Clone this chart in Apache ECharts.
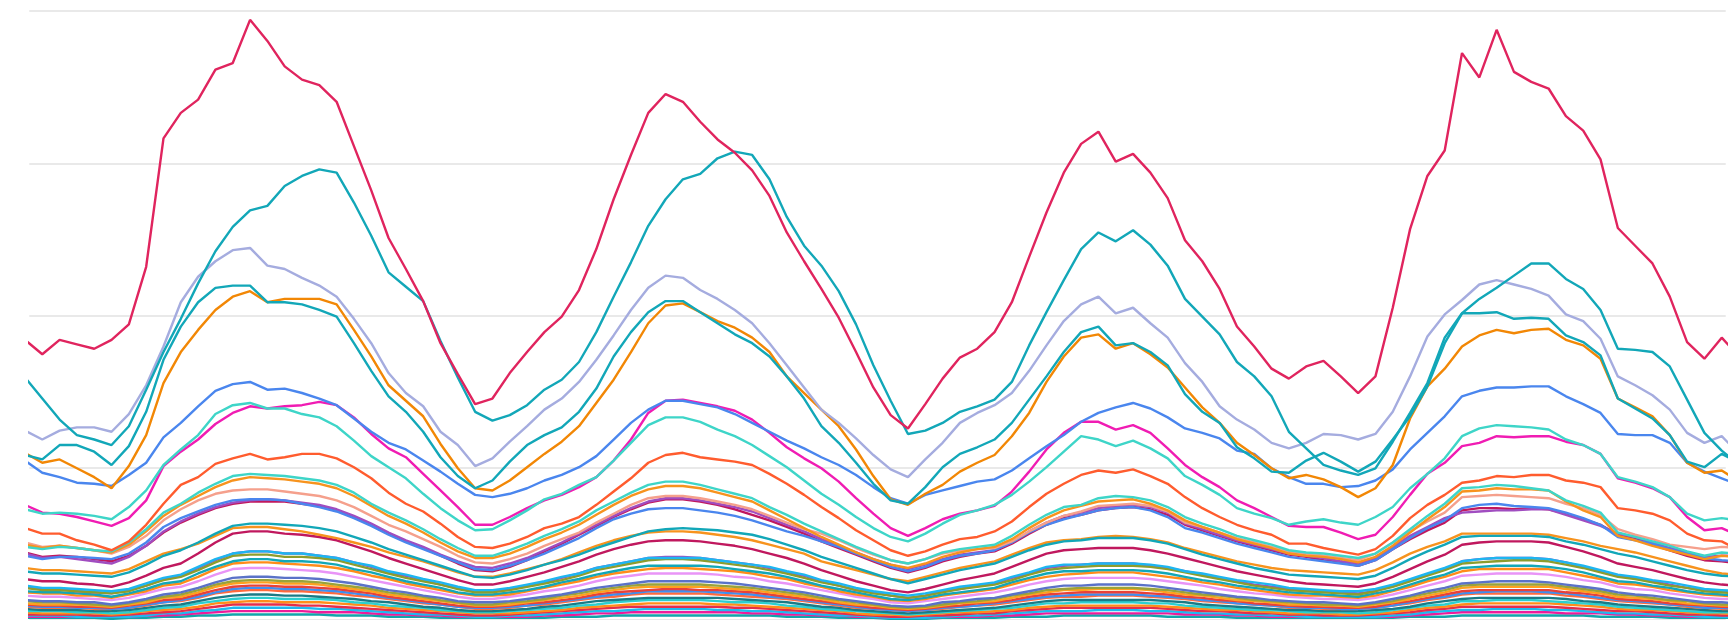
<!DOCTYPE html>
<html>
<head>
<meta charset="utf-8">
<script src="https://cdn.jsdelivr.net/npm/echarts@6/dist/echarts.min.js"></script>
<style>
html,body{margin:0;padding:0;background:#ffffff;}
#chart{width:1735px;height:620px;}
</style>
</head>
<body>
<div id="chart"></div>
<script>
// x positions: one reading per time step (100 steps, the first and last fall just outside the view)
const steps = Array.from({length: 100}, (_, i) => i);

// ---- values (arbitrary units, axis 0..550) ----
const crimsonA = [
253,240,253,249,245,253,267,319,435,458,470,497,503,542,523,500,488,483,468,428,388,345,317,288,250,
222,195,200,223,242,260,274,298,335,380,420,458,475,468,450,434,422,406,383,350,324,299,273,242,210,
185,173,195,218,237,245,260,287,328,368,404,430,441,414,421,404,381,343,324,299,265,247,227,218,229,
234,220,205,220,282,353,401,424,512,490,533,495,486,480,455,442,416,354,338,322,292,251,236,255,238];

const tealA = [
219,200,181,167,163,158,175,208,242,272,304,333,355,370,374,392,401,407,404,377,347,314,301,288,252,
219,188,180,185,194,208,217,233,260,292,323,356,380,398,403,417,423,420,398,364,338,320,297,267,230,
198,168,171,178,188,193,199,215,248,278,307,335,350,342,352,339,320,290,274,258,233,220,202,170,155,
140,135,131,137,161,187,214,255,277,290,300,311,322,322,308,299,280,245,244,242,229,199,169,153,140];

const tealB = [
149,145,158,158,152,140,157,188,235,265,287,300,302,302,287,287,285,280,274,250,225,202,188,170,147,
130,119,126,143,158,167,174,188,209,238,260,278,288,288,278,268,258,250,238,220,200,175,160,142,123,
108,105,120,138,150,156,163,178,199,220,242,260,265,248,250,242,230,204,188,178,156,146,134,133,144,
151,143,134,143,163,184,211,250,277,277,278,272,273,272,257,251,239,200,191,182,167,143,138,150,142];

const lavender = [
171,163,171,174,174,170,186,212,247,287,310,324,334,336,320,317,309,302,292,272,250,223,205,193,170,
158,139,146,161,175,190,200,215,235,257,280,300,311,309,298,290,280,268,250,230,210,190,178,164,149,
136,129,145,160,178,187,194,205,225,248,270,285,292,277,282,268,255,232,215,193,181,172,160,155,160,
168,167,163,168,188,220,256,276,289,303,307,303,299,293,276,270,254,220,212,203,190,169,160,166,150];

const orangeA = [
151,142,145,137,129,119,139,167,214,242,262,280,292,297,287,290,290,290,285,262,238,212,198,184,159,
137,119,117,126,138,150,161,175,196,217,242,268,284,286,278,270,264,255,242,220,205,190,175,154,130,
109,104,114,122,134,142,149,166,187,215,238,255,258,245,250,240,228,210,192,178,160,149,137,128,131,
127,120,111,119,140,182,211,227,247,257,262,259,262,263,253,248,236,200,192,184,167,142,133,135,125];

const blueA = [
144,133,129,124,123,121,131,142,165,178,193,207,213,215,208,209,205,200,194,182,170,160,154,144,134,
123,113,111,114,119,126,131,138,148,163,178,190,198,198,195,192,186,178,170,162,155,147,140,131,120,
110,105,113,117,121,125,127,135,146,157,167,179,187,192,196,191,183,173,169,164,153,150,137,129,123,
123,120,121,126,136,154,169,184,202,207,210,210,211,211,202,195,187,168,167,167,160,142,134,128,122];

const turquoiseA = [
100,96,97,96,94,91,102,117,140,154,167,186,194,196,191,191,186,183,175,162,148,138,128,114,101,
90,81,82,90,99,109,114,122,129,144,160,176,183,183,179,172,166,158,148,138,126,114,104,93,83,
75,71,78,87,95,99,104,113,125,138,152,166,163,157,162,155,146,130,122,113,101,96,92,86,89,
91,88,86,93,102,119,132,146,166,173,176,175,174,172,163,158,150,129,125,120,111,96,90,92,90];

const magenta = [
104,97,96,93,89,85,92,108,139,152,163,177,187,193,191,193,194,197,194,183,168,155,147,132,117,
102,86,86,93,101,108,113,120,129,144,163,187,198,199,196,193,189,181,169,156,146,137,125,110,96,
83,76,83,91,96,99,103,116,134,154,169,179,179,172,176,169,155,140,129,120,108,101,93,85,84,
84,79,73,77,93,113,132,142,157,160,166,165,166,166,161,158,150,128,124,119,111,93,81,83,76];

const vermilion = [
83,78,78,72,68,63,71,86,105,122,129,141,146,150,145,147,150,150,146,138,128,115,105,98,87,
75,66,65,69,75,83,87,93,104,116,128,142,149,151,147,145,143,140,132,123,113,102,92,81,72,
63,58,62,68,73,75,80,89,102,114,123,131,135,133,136,130,123,111,101,93,86,81,77,69,69,
65,62,59,64,76,92,104,113,124,126,130,129,131,131,126,124,120,101,99,96,90,78,72,71,63];

const turquoiseB = [
66,64,66,65,63,62,70,82,97,105,115,123,130,132,131,130,128,126,122,115,105,97,90,82,73,
65,58,58,63,69,76,82,89,99,107,115,122,125,125,122,118,114,110,102,95,87,80,73,66,60,
54,51,55,61,64,66,68,76,86,95,102,104,110,112,111,108,102,93,87,82,76,72,68,63,61,
60,58,56,60,70,82,94,105,119,120,122,121,119,117,108,103,97,79,75,71,67,62,58,61,60];

const orangeB = [
68,65,67,65,63,61,68,80,94,104,112,120,126,129,128,127,125,123,119,112,103,94,87,79,70,
62,56,56,60,66,73,79,86,95,104,112,118,121,121,119,115,111,107,99,91,83,75,68,61,55,
50,47,51,57,61,64,66,73,83,92,99,103,107,108,109,105,99,90,84,79,73,69,65,60,58,
57,55,52,57,67,79,91,102,116,117,119,118,118,117,107,99,93,76,72,67,63,59,55,58,57];

const salmon = [
70,66,67,65,63,60,66,76,90,100,108,114,117,118,118,116,114,112,108,102,94,86,80,73,66,
58,52,51,55,60,67,73,79,88,96,104,110,112,112,110,107,104,100,94,88,82,78,72,65,59,
54,51,55,60,63,64,65,71,80,88,94,98,103,104,105,103,98,88,84,79,74,70,66,62,60,
58,56,54,60,70,80,89,97,111,112,113,112,111,110,105,101,95,82,77,73,68,66,64,66,65];

const blueB = [
58,55,57,57,56,55,60,70,84,92,98,104,108,109,109,108,105,102,98,92,85,77,70,64,58,
52,46,45,49,54,60,67,74,83,91,96,100,101,101,99,97,94,90,85,80,76,71,66,60,54,
48,44,48,54,58,60,63,70,79,86,91,95,99,101,102,99,93,83,79,74,69,65,61,57,55,
53,51,49,54,64,74,83,90,101,104,105,103,102,101,97,92,86,75,72,69,64,60,56,54,53];

const purpleA = [
60,56,57,55,53,51,57,67,80,89,96,102,106,108,109,108,106,104,100,94,87,79,72,66,59,
53,48,47,51,56,63,70,78,86,94,101,107,110,110,108,105,102,98,92,86,80,73,67,61,55,
50,46,50,55,59,61,63,70,80,88,94,97,101,103,104,102,97,87,82,77,72,68,64,60,58,
56,53,51,56,66,76,84,92,97,98,99,99,100,100,95,90,85,78,75,70,65,61,57,58,58];

const raspberryA = [
61,57,58,57,55,53,58,67,79,88,95,101,105,107,107,107,105,103,99,93,86,78,71,65,58,
51,45,44,48,54,62,69,77,85,93,100,106,109,109,107,104,100,95,90,84,78,71,65,59,53,
47,43,47,53,57,60,62,69,78,86,92,95,99,101,102,100,95,86,81,76,71,67,63,59,57,
54,52,49,54,64,73,81,88,99,101,101,100,101,100,96,91,86,77,74,68,63,58,54,53,51];

const tealC = [
44,42,42,41,40,39,43,50,58,63,70,78,85,87,87,86,85,83,80,75,70,64,59,54,49,
44,39,38,41,45,50,54,59,65,70,75,80,82,83,82,81,79,77,73,68,63,57,52,47,42,
37,33,37,41,45,48,51,57,63,68,71,72,74,74,74,72,69,64,59,55,51,47,44,41,40,
39,38,37,40,47,55,62,68,75,76,76,76,76,75,71,68,64,60,57,53,49,45,42,40,39];

const orangeC = [
47,45,45,44,43,42,46,53,60,64,69,76,83,84,84,82,80,77,74,70,66,61,57,53,48,
43,39,39,42,46,50,55,61,67,72,76,79,80,80,79,77,75,72,68,64,60,53,49,45,41,
37,35,39,43,47,50,53,59,65,70,72,73,75,76,75,73,70,65,61,57,53,50,47,45,44,
43,42,41,45,52,60,66,71,78,78,78,78,78,77,74,71,67,64,61,57,53,49,45,42,41];

const raspberryB = [
37,35,35,33,32,30,34,40,47,51,60,70,78,80,80,78,77,75,72,67,62,56,51,46,41,
36,32,32,35,39,43,48,53,59,64,68,71,72,72,71,69,67,64,60,56,51,45,40,35,31,
27,25,28,32,36,39,42,48,54,60,63,64,65,65,65,63,60,56,52,48,44,41,38,35,33,
32,31,30,33,39,46,53,59,68,70,71,71,71,70,66,62,57,51,48,45,41,37,34,32,31];

const skyA = [
31,29,29,28,27,26,28,33,38,41,48,55,60,62,62,60,60,58,56,52,49,44,41,37,34,
30,27,27,29,32,35,39,42,47,50,53,56,56,56,56,54,52,50,48,44,41,36,33,29,26,
24,22,24,27,30,32,34,39,43,48,50,50,51,51,51,50,48,44,42,39,36,34,32,29,28,
27,26,26,28,32,37,42,47,53,55,56,56,56,55,52,49,45,41,39,36,34,31,28,27,26];

const oliveA = [
29,27,27,26,25,24,26,31,36,39,45,52,58,59,59,57,57,56,54,50,46,42,38,35,32,
28,25,25,27,30,33,36,40,45,48,51,54,55,55,54,52,50,48,45,42,38,34,31,27,24,
22,20,22,25,28,30,32,36,41,45,47,48,49,49,49,48,46,43,40,37,34,31,29,27,26,
25,24,23,26,30,35,40,45,51,52,53,54,54,53,50,47,43,39,37,34,31,29,26,25,24];

const purpleB = [
30,28,28,26,25,24,27,31,37,40,47,54,60,62,62,60,60,58,56,52,48,43,40,36,32,
29,26,26,28,31,34,38,42,47,50,53,56,57,57,56,54,52,50,47,43,40,35,31,27,25,
22,20,22,26,28,31,33,38,42,47,49,50,51,51,51,49,47,44,41,38,35,32,30,28,27,
26,25,24,26,31,36,41,46,53,55,56,56,56,55,52,48,44,40,38,35,32,29,27,26,25];

const tealD = [
26,25,25,24,23,21,24,28,33,35,42,48,53,55,55,53,53,52,50,46,43,39,35,32,29,
25,23,23,25,27,30,34,37,41,44,47,49,49,49,49,48,46,44,42,39,35,31,28,25,22,
19,18,20,23,25,27,29,34,38,42,44,44,45,45,45,44,42,39,36,34,31,29,27,25,24,
23,22,21,24,27,32,37,41,47,48,49,49,49,48,46,43,39,35,34,31,29,26,24,23,22];

const orangeD = [
25,24,24,22,22,20,23,26,31,33,39,46,51,52,52,51,50,49,47,44,40,37,33,30,27,
24,22,22,23,26,29,32,35,39,42,44,46,47,47,46,45,44,42,39,37,33,30,26,23,21,
18,17,19,22,24,26,28,32,36,39,41,42,43,43,43,41,39,37,34,32,29,27,25,23,22,
22,21,20,22,26,30,35,39,44,46,46,46,46,46,43,40,37,33,32,30,27,25,23,22,21];

const violet = [
22,21,21,20,19,18,20,24,28,30,35,41,46,47,47,46,45,44,42,39,36,33,30,27,24,
21,19,19,21,23,26,28,31,35,38,40,42,42,42,42,41,39,38,35,33,30,27,24,21,19,
16,15,17,19,21,23,25,28,32,35,37,38,38,38,38,37,35,33,31,28,26,24,23,21,20,
19,19,18,20,23,27,31,35,40,41,42,42,42,41,39,36,34,30,28,27,24,22,20,19,19];

const slate = [
18,17,17,16,16,14,16,19,23,25,29,34,38,39,39,38,38,37,35,33,30,27,25,22,20,
17,16,16,17,19,21,23,26,29,31,33,35,35,35,35,34,33,31,29,27,25,22,19,17,15,
13,12,13,16,17,19,20,23,26,29,31,31,32,32,32,31,29,27,25,23,21,20,18,17,16,
16,15,14,16,19,22,26,29,33,34,35,35,35,34,32,30,28,25,23,22,20,18,16,16,15];

const oliveB = [
17,16,16,15,14,13,15,18,21,23,27,32,35,36,36,35,35,34,32,30,28,25,23,21,18,
16,14,14,16,17,19,22,24,27,29,31,32,32,32,32,31,30,29,27,25,23,20,18,16,14,
12,11,12,14,16,17,19,22,24,27,28,29,29,29,29,28,27,25,23,22,20,18,17,16,15,
14,14,13,15,17,21,24,27,31,32,32,32,32,32,30,28,26,23,22,20,18,17,15,14,14];

const amber = [
15,14,14,14,13,12,14,16,20,21,25,30,33,34,34,33,33,32,30,28,26,23,21,19,17,
15,13,13,14,16,18,20,22,25,27,29,30,30,30,30,29,28,27,25,23,21,19,16,14,13,
11,10,11,13,15,16,17,20,23,25,27,27,28,28,28,27,25,23,22,20,18,17,16,14,14,
13,13,12,14,16,19,22,25,29,30,30,30,30,30,28,26,24,21,20,19,17,15,14,13,13];

const redA = [
14,13,13,12,12,11,13,15,18,19,23,27,30,31,31,30,30,29,28,26,24,21,19,17,15,
13,12,12,13,15,16,18,20,23,25,26,27,28,28,27,27,26,25,23,21,19,17,15,13,11,
10,9,10,12,13,15,16,18,21,23,24,25,25,25,25,24,23,21,20,18,17,15,14,13,12,
12,11,11,12,15,17,20,23,26,27,27,27,27,27,25,24,22,19,18,17,15,14,13,12,11];

const blueC = [
13,12,12,11,11,10,11,14,16,18,21,25,28,29,29,28,28,27,26,24,22,20,18,16,14,
12,11,11,12,13,15,17,19,21,23,24,26,26,26,26,25,24,23,21,20,18,16,14,12,10,
9,8,9,11,12,13,15,17,19,21,22,23,23,23,23,22,21,20,18,17,15,14,13,12,11,
11,10,10,11,13,16,19,21,24,25,26,26,26,25,24,22,20,18,17,16,14,13,11,11,10];

const coral = [
12,11,11,11,10,10,11,13,16,17,20,24,26,27,27,26,26,25,24,22,21,19,17,15,14,
12,10,10,11,13,14,16,18,20,21,23,24,24,24,24,23,22,21,20,19,17,15,13,11,10,
9,8,9,10,12,13,14,16,18,20,21,21,22,22,22,21,20,19,17,16,15,14,13,11,11,
10,10,10,11,13,15,18,20,23,24,24,24,24,24,22,21,19,17,16,15,14,12,11,10,10];

const deepTeal = [
10,9,9,9,8,8,9,11,13,14,17,20,22,23,23,22,22,21,20,19,17,16,14,12,11,
9,8,8,9,10,12,13,15,17,18,19,20,20,20,20,20,19,18,17,16,14,12,11,9,8,
7,6,7,8,9,10,11,13,15,17,18,18,18,18,18,18,17,16,14,13,12,11,10,9,9,
8,8,8,9,10,12,15,17,19,20,20,20,20,20,19,17,16,14,13,12,11,10,9,8,8];

const cyanA = [
8,8,8,7,7,6,7,9,11,12,15,17,19,20,20,19,19,19,18,16,15,13,12,11,9,
8,7,7,8,9,10,11,13,14,16,17,18,18,18,18,17,16,16,15,13,12,10,9,8,7,
6,5,6,7,8,9,10,11,13,15,15,16,16,16,16,15,15,13,12,11,10,9,9,8,7,
7,7,6,7,9,11,13,14,17,17,18,18,18,17,16,15,14,12,11,10,9,8,7,7,7];

const orangeE = [
7,6,6,6,6,5,6,8,9,10,12,15,16,17,17,16,16,16,15,14,13,11,10,9,8,
7,6,6,6,7,8,9,11,12,13,14,15,15,15,15,14,14,13,12,11,10,9,8,6,5,
5,4,5,6,7,7,8,9,11,12,13,13,13,13,13,13,12,11,10,9,9,8,7,6,6,
6,5,5,6,7,9,11,12,14,15,15,15,15,15,14,13,12,10,9,9,8,7,6,6,5];

const redB = [
5,5,5,5,4,4,5,6,7,8,10,12,14,14,14,14,13,13,12,11,10,9,8,7,6,
5,4,4,5,6,7,8,9,10,11,12,12,12,12,12,12,11,11,10,9,8,7,6,5,4,
3,3,4,4,5,6,6,8,9,10,11,11,11,11,11,11,10,9,8,8,7,6,6,5,5,
4,4,4,5,6,7,9,10,12,12,12,12,12,12,11,10,9,8,8,7,6,5,5,4,4];

const skyB = [
4,4,4,3,3,3,3,4,6,6,8,9,11,11,11,11,11,10,10,9,8,7,6,5,5,
4,3,3,4,4,5,6,7,8,8,9,10,10,10,10,9,9,8,8,7,6,5,4,4,3,
2,2,2,3,4,4,5,6,7,8,8,8,9,9,9,8,8,7,6,6,5,5,4,4,3,
3,3,3,3,4,5,7,8,9,9,10,10,10,9,9,8,7,6,6,5,5,4,3,3,3];

const pinkA = [
3,3,3,3,3,3,3,4,4,5,6,7,8,8,8,8,8,7,7,7,6,5,5,4,4,
3,3,3,3,3,4,4,5,6,6,7,7,7,7,7,7,7,6,6,5,5,4,4,3,3,
2,2,2,3,3,3,4,4,5,6,6,6,6,6,6,6,6,5,5,5,4,4,3,3,3,
3,3,3,3,3,4,5,6,7,7,7,7,7,7,6,6,6,5,5,4,4,3,3,3,3];

const tealE = [
2,2,2,2,2,1,2,2,3,3,4,4,5,5,5,5,5,5,4,4,4,3,3,3,2,
2,2,2,2,2,2,3,3,3,4,4,4,4,4,4,4,4,4,4,3,3,3,2,2,2,
1,1,1,2,2,2,2,3,3,3,4,4,4,4,4,4,3,3,3,3,2,2,2,2,2,
2,2,2,2,2,3,3,3,4,4,4,4,4,4,4,4,3,3,3,3,2,2,2,2,2];

// drawing order: lowest lines first, largest last
const lines = [
  ['tealE', tealE, '#12a4ab'], ['pinkA', pinkA, '#ee1b9a'], ['skyB', skyB, '#1fb8f0'],
  ['redB', redB, '#e52d4a'], ['orangeE', orangeE, '#ff8c1a'], ['cyanA', cyanA, '#2ccfd0'],
  ['deepTeal', deepTeal, '#1a7b86'], ['coral', coral, '#ff6a3d'], ['blueC', blueC, '#3f8ff0'],
  ['redA', redA, '#e8413a'], ['amber', amber, '#ffa01f'], ['oliveB', oliveB, '#9aa33a'],
  ['slate', slate, '#5a72c8'], ['violet', violet, '#e994f7'], ['orangeD', orangeD, '#ff8c1a'],
  ['tealD', tealD, '#12a7b8'], ['purpleB', purpleB, '#a04dc0'], ['oliveA', oliveA, '#8d9d2d'],
  ['skyA', skyA, '#1db6f0'], ['raspberryB', raspberryB, '#c0185e'], ['orangeC', orangeC, '#f7931e'],
  ['tealC', tealC, '#12a7b8'], ['raspberryA', raspberryA, '#c0185e'], ['purpleA', purpleA, '#a04dc0'],
  ['blueB', blueB, '#4a86ee'], ['salmon', salmon, '#f5a08c'], ['orangeB', orangeB, '#f7931e'],
  ['turquoiseB', turquoiseB, '#3ed5c8'], ['vermilion', vermilion, '#ff5c2e'], ['magenta', magenta, '#f01cb3'],
  ['turquoiseA', turquoiseA, '#3ed5c8'], ['blueA', blueA, '#4a86ee'], ['orangeA', orangeA, '#f28705'],
  ['tealB', tealB, '#12a7b8'], ['lavender', lavender, '#a5acdf'], ['tealA', tealA, '#12a7b8'],
  ['crimsonA', crimsonA, '#e0245e']
];

const chart = echarts.init(document.getElementById('chart'), null, {renderer: 'canvas'});
chart.setOption({
  animation: false,
  backgroundColor: '#ffffff',
  grid: {left: 29.3, right: 9.3, top: 11, bottom: 0},
  xAxis: {
    type: 'value', min: 0.25, max: 98.23,
    axisLine: {show: false}, axisTick: {show: false}, axisLabel: {show: false}, splitLine: {show: false}
  },
  yAxis: {
    type: 'value', min: 0, max: 550, interval: 137.5,
    axisLine: {show: false}, axisTick: {show: false}, axisLabel: {show: false},
    splitLine: {show: true, lineStyle: {color: '#e9e9e9', width: 2}}
  },
  series: lines.map(([name, vals, color]) => ({
    type: 'line',
    name: name,
    data: vals.map((v, i) => [steps[i], v]),
    showSymbol: false,
    symbol: 'none',
    clip: true,
    silent: true,
    lineStyle: {width: 2.4, color: color},
    itemStyle: {color: color}
  }))
});
</script>
</body>
</html>
